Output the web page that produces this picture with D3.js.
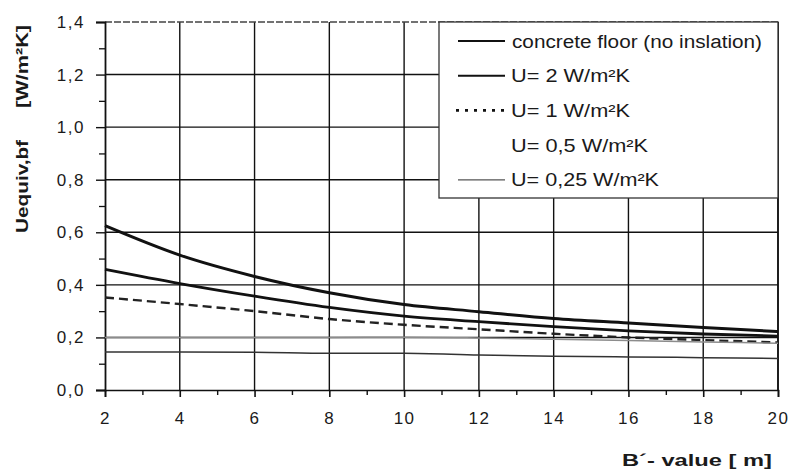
<!DOCTYPE html>
<html>
<head>
<meta charset="utf-8">
<title>Uequiv,bf vs B' value</title>
<script src="https://cdnjs.cloudflare.com/ajax/libs/d3/7.8.5/d3.min.js"></script>
<style>
  body { margin: 0; background: #fff; }
  text { font-family: "Liberation Sans", Arial, sans-serif; fill: #1a1a1a; }
</style>
</head>
<body>
<div id="chart"></div>
<script>
// data
var bValues = [2, 4, 6, 8, 10, 12, 14, 16, 18, 20];
var concreteFloor = [0.625, 0.513, 0.432, 0.370, 0.325, 0.298, 0.272, 0.255, 0.238, 0.222];
var u2 = [0.459, 0.405, 0.357, 0.314, 0.281, 0.260, 0.241, 0.225, 0.213, 0.205];
var u1 = [0.352, 0.327, 0.300, 0.270, 0.248, 0.231, 0.214, 0.200, 0.190, 0.181];
var u05 = [0.200, 0.200, 0.200, 0.200, 0.201, 0.198, 0.193, 0.188, 0.183, 0.178];
var u025 = [0.145, 0.145, 0.144, 0.140, 0.140, 0.133, 0.128, 0.126, 0.123, 0.120];

var seriesNames = ["concrete floor (no inslation)", "U= 2 W/m²K", "U= 1 W/m²K", "U= 0,5 W/m²K", "U= 0,25 W/m²K"];
var xTicks = [2, 4, 6, 8, 10, 12, 14, 16, 18, 20];
var yTicks = [0, 0.2, 0.4, 0.6, 0.8, 1.0, 1.2, 1.4];

var width = 792, height = 472;
var margin = {left: 105, right: 14, top: 22, bottom: 82};

var svg = d3.select("#chart").append("svg")
  .attr("width", width)
  .attr("height", height);

var x = d3.scaleLinear().domain([2, 20]).range([margin.left, width - margin.right]);
var y = d3.scaleLinear().domain([0, 1.4]).range([height - margin.bottom, margin.top]);

var fmt = function(d) { return d3.format(".1f")(d).replace(".", ","); };

// grid
svg.append("g").selectAll("line")
  .data(xTicks.slice(1))
  .join("line")
  .attr("x1", d => x(d)).attr("x2", d => x(d))
  .attr("y1", y(0)).attr("y2", y(1.4))
  .attr("stroke", "#111").attr("stroke-width", 1.4);

svg.append("g").selectAll("line")
  .data(yTicks.slice(1))
  .join("line")
  .attr("x1", x(2)).attr("x2", x(20))
  .attr("y1", d => y(d)).attr("y2", d => y(d))
  .attr("stroke", d => d === 1.4 ? "#444" : "#111")
  .attr("stroke-width", 1.4)
  .attr("stroke-dasharray", d => d === 1.4 ? "7,2" : null);

// axes
var xAxis = d3.axisBottom(x).tickValues(xTicks).tickSize(7).tickFormat(d3.format("d"));
var gx = svg.append("g").attr("transform", "translate(0," + y(0) + ")").call(xAxis);
gx.select(".domain").attr("stroke", "#111").attr("stroke-width", 1.6);
gx.selectAll(".tick line").attr("stroke", "#111").attr("stroke-width", 1.6);
gx.selectAll(".tick text")
  .attr("y", 22)
  .style("font-size", "17px")
  .style("letter-spacing", "1.5px")
  .attr("fill", "#1a1a1a");

var xMinor = d3.axisBottom(x).tickValues([3, 5, 7, 9, 11, 13, 15, 17, 19]).tickSize(5).tickFormat("");
var gxm = svg.append("g").attr("transform", "translate(0," + y(0) + ")").call(xMinor);
gxm.select(".domain").remove();
gxm.selectAll(".tick line").attr("stroke", "#111").attr("stroke-width", 1.4);

var yAxis = d3.axisLeft(y).tickValues(yTicks).tickSize(9).tickFormat(fmt);
var gy = svg.append("g").attr("transform", "translate(" + x(2) + ",0)").call(yAxis);
gy.select(".domain").attr("stroke", "#111").attr("stroke-width", 1.8);
gy.selectAll(".tick line").attr("stroke", "#111").attr("stroke-width", 1.4);
gy.selectAll(".tick text")
  .attr("x", -20)
  .style("font-size", "17px")
  .style("letter-spacing", "1.5px")
  .attr("fill", "#1a1a1a");

var yMinor = d3.axisLeft(y).tickValues([0.1, 0.3, 0.5, 0.7, 0.9, 1.1, 1.3]).tickSize(6).tickFormat("");
var gym = svg.append("g").attr("transform", "translate(" + x(2) + ",0)").call(yMinor);
gym.select(".domain").remove();
gym.selectAll(".tick line").attr("stroke", "#111").attr("stroke-width", 1.3);

// right border
svg.append("line")
  .attr("x1", x(20)).attr("x2", x(20))
  .attr("y1", y(0)).attr("y2", y(1.4))
  .attr("stroke", "#111").attr("stroke-width", 1.6);

// series
var series = [
  {name: seriesNames[0], values: concreteFloor, color: "#111", width: 3, dash: null},
  {name: seriesNames[1], values: u2, color: "#111", width: 2.8, dash: null},
  {name: seriesNames[2], values: u1, color: "#222", width: 2.4, dash: "9,5"},
  {name: seriesNames[3], values: u05, color: "#8c8c8c", width: 1.5, dash: null},
  {name: seriesNames[4], values: u025, color: "#333", width: 1.5, dash: null}
];

var line = d3.line()
  .x((d, i) => x(bValues[i]))
  .y(d => y(d))
  .curve(d3.curveMonotoneX);

svg.append("g").selectAll("path")
  .data(series)
  .join("path")
  .attr("d", d => line(d.values))
  .attr("fill", "none")
  .attr("stroke", d => d.color)
  .attr("stroke-width", d => d.width)
  .attr("stroke-dasharray", d => d.dash);

// legend
var lg = svg.append("g");
lg.append("rect")
  .attr("x", 439).attr("y", y(1.4))
  .attr("width", x(20) - 439).attr("height", 176)
  .attr("fill", "#fff").attr("stroke", "#333").attr("stroke-width", 1.3);

var legendStyles = [
  {color: "#111", width: 2, dash: null, show: true},
  {color: "#111", width: 2, dash: null, show: true},
  {color: "#111", width: 2.6, dash: "3,6", show: true},
  {color: "#fff", width: 1, dash: null, show: false},
  {color: "#555", width: 1.2, dash: null, show: true}
];
var legendText = [250, 119, 119, 137, 148];

seriesNames.forEach(function(name, i) {
  var cy = 41 + i * 34.7;
  var st = legendStyles[i];
  if (st.show) {
    lg.append("line")
      .attr("x1", i === 2 ? 456 : 458).attr("x2", 505)
      .attr("y1", cy).attr("y2", cy)
      .attr("stroke", st.color).attr("stroke-width", st.width)
      .attr("stroke-dasharray", st.dash);
  }
  lg.append("text")
    .attr("x", i === 0 ? 512 : 511)
    .attr("y", cy + 6.5)
    .attr("textLength", legendText[i])
    .attr("lengthAdjust", "spacingAndGlyphs")
    .style("font-size", "18px")
    .text(name);
});

// axis titles
svg.append("text")
  .attr("transform", "translate(28,233) rotate(-90)")
  .attr("text-anchor", "start")
  .attr("textLength", 93)
  .attr("lengthAdjust", "spacingAndGlyphs")
  .style("font-size", "17px")
  .style("font-weight", "bold")
  .text("Uequiv,bf");

svg.append("text")
  .attr("transform", "translate(28,25) rotate(-90)")
  .attr("text-anchor", "end")
  .attr("textLength", 83)
  .attr("lengthAdjust", "spacingAndGlyphs")
  .style("font-size", "17px")
  .style("font-weight", "bold")
  .text("[W/m²K]");

svg.append("text")
  .attr("x", 622).attr("y", 466)
  .attr("textLength", 150)
  .attr("lengthAdjust", "spacingAndGlyphs")
  .style("font-size", "17px")
  .style("font-weight", "bold")
  .text("B´- value [ m]");
</script>
</body>
</html>
